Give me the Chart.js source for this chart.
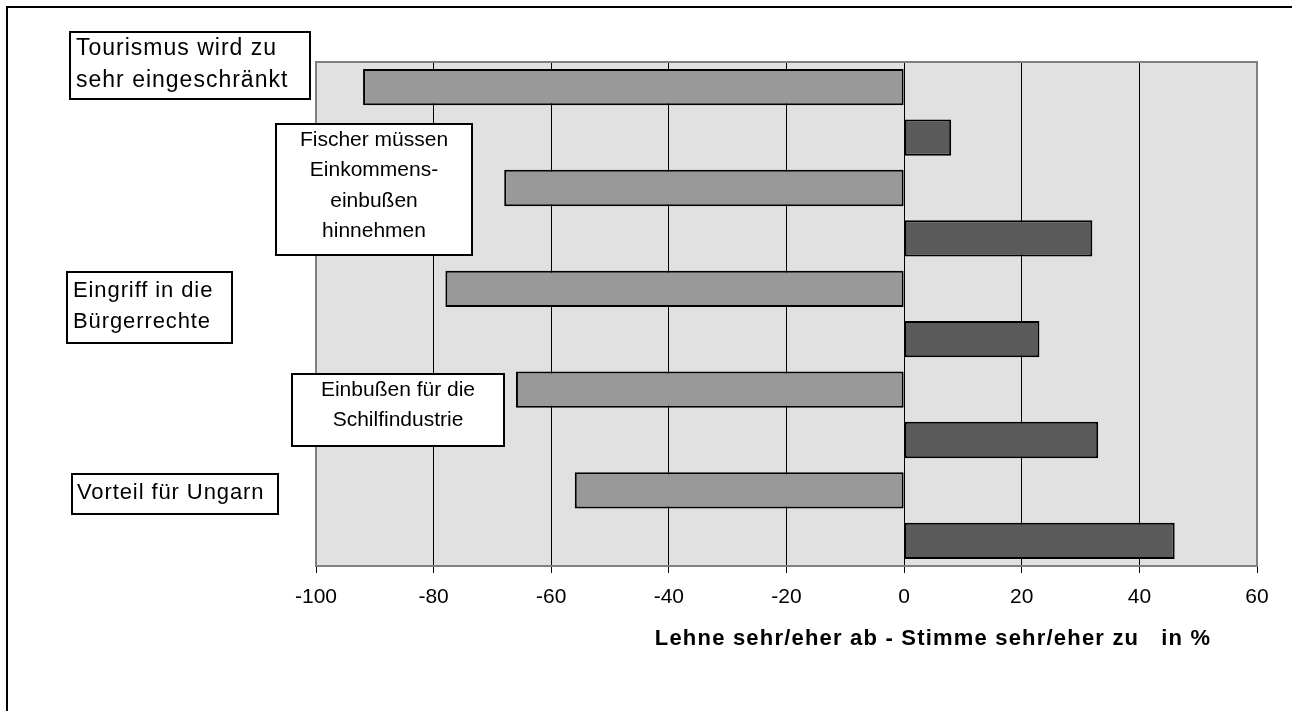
<!DOCTYPE html>
<html lang="de">
<head>
<meta charset="utf-8">
<title>Lehne ab / Stimme zu</title>
<script src="https://cdn.jsdelivr.net/npm/chart.js@4.4.1/dist/chart.umd.min.js"></script>
<style>
html, body { margin: 0; padding: 0; background: #fff; overflow: hidden; }
#wrap { position: relative; width: 1292px; height: 711px; overflow: hidden; }
#frame { position: absolute; left: 6px; top: 6px; width: 1400px; height: 800px; border-left: 2px solid #000; border-top: 2px solid #000; }
#chart { position: absolute; left: 0; top: 0; }
</style>
</head>
<body>
<div id="wrap">
  <div id="frame"></div>
  <canvas id="chart" width="1292" height="711"></canvas>
</div>
<script>
// Daten
const topics = [
    ['Tourismus wird zu', 'sehr eingeschränkt'],
    ['Fischer müssen', 'Einkommens-', 'einbußen', 'hinnehmen'],
    ['Eingriff in die', 'Bürgerrechte'],
    ['Einbußen für die', 'Schilfindustrie'],
    ['Vorteil für Ungarn']
];
const rejectValues = [-92, -68, -78, -66, -56];   // Lehne sehr/eher ab
const agreeValues = [8, 32, 23, 33, 46];          // Stimme sehr/eher zu
const xTicks = [-100, -80, -60, -40, -20, 0, 20, 40, 60];
const axisTitle = 'Lehne sehr/eher ab - Stimme sehr/eher zu   in %';

// jede Aussage hat zwei Zeilen: erst Ablehnung, dann Zustimmung
const rowLabels = [];
const rejectSeries = [];
const agreeSeries = [];
topics.forEach((t, i) => {
    rowLabels.push(t.join(' ') + ' (ab)');
    rejectSeries.push(rejectValues[i]);
    agreeSeries.push(null);
    rowLabels.push(t.join(' ') + ' (zu)');
    rejectSeries.push(null);
    agreeSeries.push(agreeValues[i]);
});

// Lage der Textkästen (nur Layout)
const boxLayout = [
    { x: 70, y: 32, w: 240, h: 67, align: 'left', tx: 76, base: 55, lh: 32, size: 23, sp: 1.0 },
    { x: 276, y: 124, w: 196, h: 131, align: 'center', tx: 374, base: 146, lh: 30.3, size: 21, sp: 0 },
    { x: 67, y: 272, w: 165, h: 71, align: 'left', tx: 73, base: 297, lh: 31, size: 22, sp: 0.9 },
    { x: 292, y: 374, w: 212, h: 72, align: 'center', tx: 398, base: 396, lh: 30, size: 21, sp: 0 },
    { x: 72, y: 474, w: 206, h: 40, align: 'left', tx: 77, base: 499, lh: 30, size: 22, sp: 0.9 }
];

const FONT = '"Liberation Sans", Arial, sans-serif';
const GREY_BORDER = '#808080';

const plotFrame = {
    id: 'plotFrame',
    beforeDraw(chart) {
        const { ctx, chartArea: a } = chart;
        ctx.save();
        ctx.fillStyle = '#e1e1e1';
        ctx.fillRect(a.left, a.top, a.right - a.left, a.bottom - a.top);
        ctx.restore();
    },
    beforeDatasetsDraw(chart) {
        const { ctx, chartArea: a } = chart;
        ctx.save();
        ctx.strokeStyle = GREY_BORDER;
        ctx.lineWidth = 2;
        ctx.strokeRect(a.left, a.top, a.right - a.left, a.bottom - a.top);
        ctx.restore();
    },
    afterDraw(chart) {
        const ctx = chart.ctx;
        ctx.save();
        // Textkästen
        boxLayout.forEach((b, i) => {
            ctx.fillStyle = '#fff';
            ctx.fillRect(b.x, b.y, b.w, b.h);
            ctx.strokeStyle = '#000';
            ctx.lineWidth = 2;
            ctx.strokeRect(b.x, b.y, b.w, b.h);
            ctx.fillStyle = '#000';
            ctx.font = b.size + 'px ' + FONT;
            ctx.letterSpacing = b.sp + 'px';
            ctx.textAlign = b.align;
            ctx.textBaseline = 'alphabetic';
            topics[i].forEach((line, j) => {
                ctx.fillText(line, b.tx, b.base + j * b.lh);
            });
        });
        // Achsentitel
        ctx.font = 'bold 22px ' + FONT;
        ctx.letterSpacing = '1.2px';
        ctx.textAlign = 'center';
        ctx.fillStyle = '#000';
        ctx.fillText(axisTitle, 933, 645);
        ctx.restore();
    }
};

new Chart(document.getElementById('chart'), {
    type: 'bar',
    data: {
        labels: rowLabels,
        datasets: [
            {
                label: 'Lehne sehr/eher ab',
                data: rejectSeries,
                backgroundColor: '#999999',
                borderColor: '#000',
                borderWidth: 2,
                borderSkipped: false,
                grouped: false,
                categoryPercentage: 1,
                barPercentage: 0.72
            },
            {
                label: 'Stimme sehr/eher zu',
                data: agreeSeries,
                backgroundColor: '#5a5a5a',
                borderColor: '#000',
                borderWidth: 2,
                borderSkipped: false,
                grouped: false,
                categoryPercentage: 1,
                barPercentage: 0.72
            }
        ]
    },
    options: {
        indexAxis: 'y',
        responsive: false,
        animation: false,
        layout: { padding: { left: 316, right: 35, top: 62, bottom: 0 } },
        plugins: { legend: { display: false }, tooltip: { enabled: false } },
        scales: {
            y: { display: false },
            x: {
                type: 'linear',
                min: xTicks[0],
                max: xTicks[xTicks.length - 1],
                afterBuildTicks: (scale) => { scale.ticks = xTicks.map(v => ({ value: v })); },
                afterFit: (scale) => { scale.height = 145; },
                grid: {
                    color: (c) => (c.tick && (c.tick.value === xTicks[0] || c.tick.value === xTicks[xTicks.length - 1])) ? GREY_BORDER : '#000',
                    lineWidth: 1,
                    tickColor: '#000',
                    tickLength: 7
                },
                border: { color: GREY_BORDER, width: 2 },
                ticks: {
                    color: '#000',
                    padding: 12,
                    maxRotation: 0,
                    font: { family: FONT, size: 21 }
                }
            }
        }
    },
    plugins: [plotFrame]
});
</script>
</body>
</html>
